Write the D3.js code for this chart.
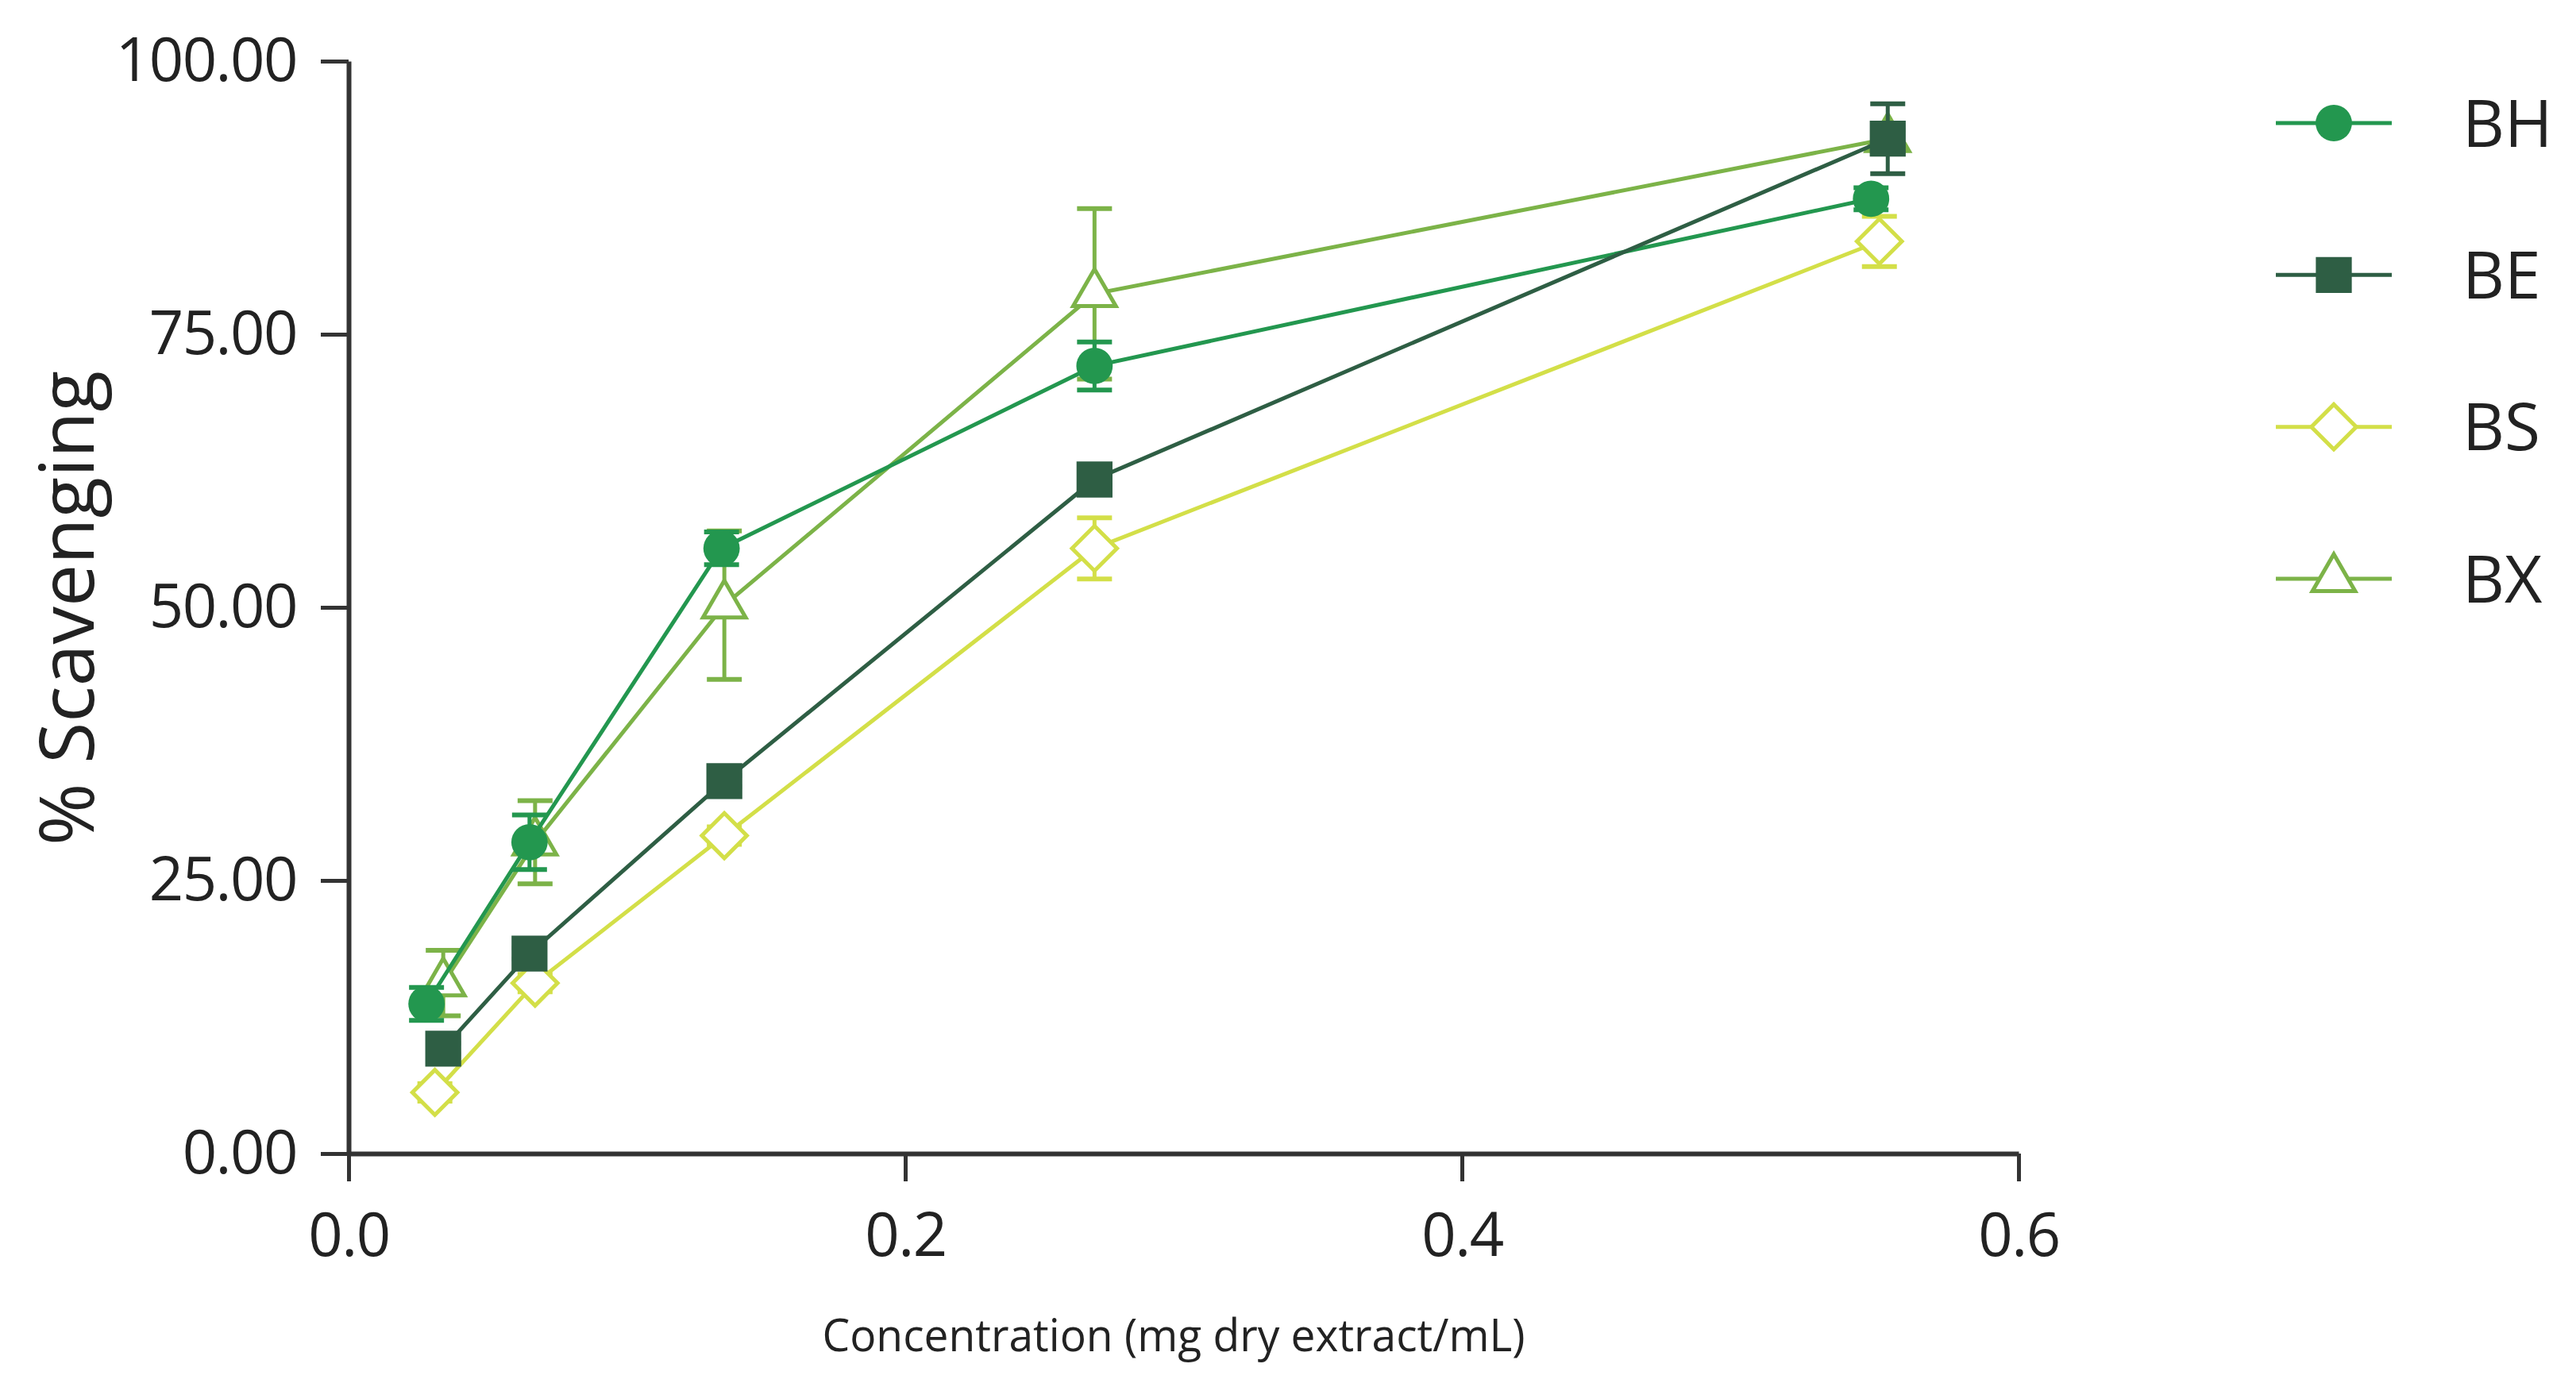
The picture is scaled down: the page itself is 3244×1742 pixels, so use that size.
<!DOCTYPE html>
<html>
<head>
<meta charset="utf-8">
<script src="https://cdn.jsdelivr.net/npm/d3@7"></script>
<style>
  body { margin: 0; background: #fff; }
  text { font-family: "Open Sans", "Noto Sans", sans-serif; fill: #222; }
</style>
</head>
<body>
<script>

  // data
  var seriesNames = ["BH", "BE", "BS", "BX"];

  var concBH = [0.028, 0.065, 0.134, 0.268, 0.547];
  var concBE = [0.034, 0.065, 0.135, 0.268, 0.553];
  var concBS = [0.031, 0.067, 0.135, 0.268, 0.550];
  var concBX = [0.034, 0.067, 0.135, 0.268, 0.553];

  var valBH = [13.7, 28.5, 55.4, 72.1, 87.4];
  var valBE = [9.6, 18.3, 34.1, 61.7, 92.9];
  var valBS = [5.6, 15.6, 29.1, 55.4, 83.5];
  var valBX = [15.6, 28.5, 50.2, 78.7, 92.9];

  var errBH = [1.5, 2.5, 1.5, 2.2, 1.0];
  var errBE = [0.5, 0.5, 0.5, 0.5, 3.2];
  var errBS = [0.8, 0.8, 0.8, 2.8, 2.3];
  var errBX = [3.0, 3.8, 6.8, 7.8, 0.8];

  var xTicks = [0.0, 0.2, 0.4, 0.6];
  var yTicks = [0, 25, 50, 75, 100];

  var w = 3244, h = 1742;
  var margin = {top: 77, left: 439, right: 702, bottom: 289};
  var width = w - margin.left - margin.right,
      height = h - margin.top - margin.bottom;

  var svg = d3.select("body").append("svg")
      .attr("width", w)
      .attr("height", h);

  var x = d3.scaleLinear().domain([0, 0.6]).range([0, width]);
  var y = d3.scaleLinear().domain([0, 100]).range([height, 0]);

  var g = svg.append("g")
      .attr("transform", "translate(" + margin.left + "," + margin.top + ")");

  var series = [
    {name: "BX", conc: concBX, val: valBX, err: errBX, color: "#7cb348", shape: "triangle", fill: false},
    {name: "BS", conc: concBS, val: valBS, err: errBS, color: "#d3df48", shape: "diamond", fill: false},
    {name: "BH", conc: concBH, val: valBH, err: errBH, color: "#23974f", shape: "circle", fill: true},
    {name: "BE", conc: concBE, val: valBE, err: errBE, color: "#2e5e44", shape: "square", fill: true}
  ];

  // diamond is a square turned 45 degrees
  var symbolType = {circle: d3.symbolCircle, square: d3.symbolSquare, diamond: d3.symbolSquare, triangle: d3.symbolTriangle};
  var symbolSize = {circle: 1650, square: 2050, diamond: 1600, triangle: 1250};
  var symbolRot = {circle: 0, square: 0, diamond: 45, triangle: 0};

  // axes
  var xAxis = g.append("g")
      .attr("class", "axis")
      .attr("transform", "translate(0," + height + ")")
      .call(d3.axisBottom(x).tickValues(xTicks).tickFormat(d3.format(".1f")).tickSize(35).tickSizeOuter(0).tickPadding(40));

  var yAxis = g.append("g")
      .attr("class", "axis")
      .call(d3.axisLeft(y).tickValues(yTicks).tickFormat(d3.format(".2f")).tickSize(35).tickSizeOuter(0).tickPadding(30));

  g.selectAll(".axis path").attr("stroke", "#333").attr("stroke-width", 6);
  g.selectAll(".axis line").attr("stroke", "#333").attr("stroke-width", 5);
  g.selectAll(".axis text")
      .attr("font-size", 76)
      .attr("letter-spacing", -1.5)
      .attr("fill", "#222");
  yAxis.selectAll("text").attr("dy", "0.32em");

  // lines, error bars, markers
  var line = d3.line()
      .x(function(d) { return x(d.c); })
      .y(function(d) { return y(d.v); });

  series.forEach(function(s) {
    var pts = s.conc.map(function(c, i) { return {c: c, v: s.val[i], e: s.err[i]}; });
    var sg = g.append("g");

    sg.append("path")
        .datum(pts)
        .attr("fill", "none")
        .attr("stroke", s.color)
        .attr("stroke-width", 5)
        .attr("d", line);

    var eb = sg.selectAll(".err").data(pts).enter().append("g");
    eb.append("line")
        .attr("x1", function(d) { return x(d.c); })
        .attr("x2", function(d) { return x(d.c); })
        .attr("y1", function(d) { return y(d.v + d.e); })
        .attr("y2", function(d) { return y(d.v - d.e); })
        .attr("stroke", s.color).attr("stroke-width", 5);
    [1, -1].forEach(function(sign) {
      eb.append("line")
          .attr("x1", function(d) { return x(d.c) - 22; })
          .attr("x2", function(d) { return x(d.c) + 22; })
          .attr("y1", function(d) { return y(d.v + sign * d.e); })
          .attr("y2", function(d) { return y(d.v + sign * d.e); })
          .attr("stroke", s.color).attr("stroke-width", 6);
    });

    sg.selectAll(".mark").data(pts).enter().append("path")
        .attr("transform", function(d) { return "translate(" + x(d.c) + "," + y(d.v) + ") rotate(" + symbolRot[s.shape] + ")"; })
        .attr("d", d3.symbol().type(symbolType[s.shape]).size(symbolSize[s.shape]))
        .attr("fill", s.fill ? s.color : "#fff")
        .attr("stroke", s.color)
        .attr("stroke-width", s.fill ? 0 : 5);
  });

  // axis titles
  svg.append("text")
      .attr("transform", "translate(" + 118 + "," + 766 + ") rotate(-90)")
      .attr("text-anchor", "middle")
      .attr("font-size", 95)
      .text("% Scavenging");

  svg.append("text")
      .attr("x", 1478)
      .attr("y", 1702)
      .attr("text-anchor", "middle")
      .attr("font-size", 56)
      .attr("textLength", 885)
      .attr("lengthAdjust", "spacingAndGlyphs")
      .text("Concentration (mg dry extract/mL)");

  // legend
  var legendY = d3.scalePoint().domain(seriesNames).range([155, 729]);
  var byName = {};
  series.forEach(function(s) { byName[s.name] = s; });

  var lg = svg.selectAll(".legend").data(seriesNames).enter().append("g")
      .attr("transform", function(d) { return "translate(2939," + legendY(d) + ")"; });

  lg.append("line")
      .attr("x1", -73).attr("x2", 73)
      .attr("stroke", function(d) { return byName[d].color; })
      .attr("stroke-width", 5);

  lg.append("path")
      .attr("transform", function(d) { return "rotate(" + symbolRot[byName[d].shape] + ")"; })
      .attr("d", function(d) { return d3.symbol().type(symbolType[byName[d].shape]).size(symbolSize[byName[d].shape])(); })
      .attr("fill", function(d) { return byName[d].fill ? byName[d].color : "#fff"; })
      .attr("stroke", function(d) { return byName[d].color; })
      .attr("stroke-width", function(d) { return byName[d].fill ? 0 : 5; });

  lg.append("text")
      .attr("x", 162)
      .attr("dy", "0.36em")
      .attr("font-size", 82)
      .text(function(d) { return d; });

</script>
</body>
</html>
